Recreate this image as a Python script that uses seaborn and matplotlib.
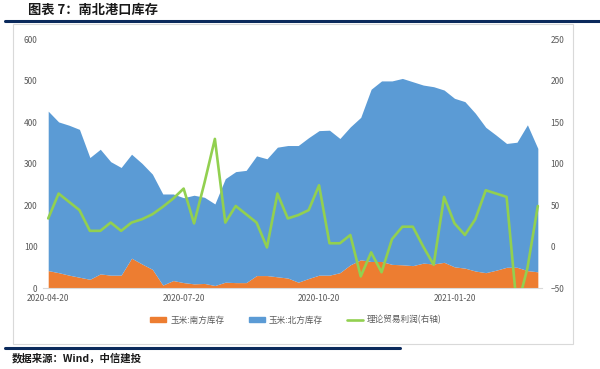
import numpy as np
import pandas as pd
import seaborn as sns
import matplotlib.pyplot as plt
from matplotlib.lines import Line2D
from matplotlib.patches import Patch, Rectangle

# weekly readings from 2020-04-20
south = [42, 37, 31, 26, 21, 34, 31, 31, 72, 58, 45, 7, 18, 13, 10, 11, 6, 14, 13, 13,
         30, 30, 27, 24, 14, 23, 31, 31, 37, 56, 68, 64, 64, 57, 56, 54, 60, 58, 62, 51,
         48, 41, 37, 43, 50, 50, 42, 39]
north = [385, 364, 362, 357, 294, 301, 274, 260, 251, 243, 230, 220, 209, 205, 214, 208,
         197, 250, 268, 271, 289, 282, 313, 320, 330, 340, 349, 350, 324, 333, 344, 416,
         436, 443, 450, 444, 430, 428, 416, 407, 402, 381, 351, 326, 299, 302, 352, 298]
profit = [34, 64, 54, 44, 19, 19, 29, 19, 29, 33, 39, 48, 58, 70, 28, 77, 130, 29, 49, 39,
          29, -1, 64, 34, 38, 44, 74, 4, 4, 14, -36, -7, -31, 9, 24, 24, 0, -22, 60, 28,
          14, 33, 68, 64, 60, -75, -26, 49]
date_labels = ["2020-04-20", "2020-07-20", "2020-10-20", "2021-01-20"]

df = pd.DataFrame({"idx": np.arange(len(south)), "south": south,
                   "north": north, "profit": profit})

sns.set_style("white")
plt.rcParams['font.family'] = ['Noto Sans CJK SC', 'DejaVu Sans']

c_south = "#ED7D31"
c_north = "#5B9BD5"
c_profit = "#92D050"
grey = "#595959"

fig = plt.figure(figsize=(6, 3.69), dpi=100)

# header / footer decoration
fig.text(28 / 600, 1 - 10 / 369, "图表 7：南北港口库存", fontsize=9.5, fontweight="bold",
         color="#1a1a1a", va="center", ha="left")
fig.add_artist(Line2D([5 / 600, 1.0], [1 - 21 / 369] * 2, color="#0b2a5c", lw=2.2))
fig.add_artist(Rectangle((13 / 600, 1 - 344 / 369), (573 - 13) / 600, (344 - 24) / 369,
                         fill=False, ec="#d9d9d9", lw=0.8))
fig.add_artist(Line2D([5 / 600, 400 / 600], [1 - 348 / 369] * 2, color="#0b2a5c", lw=2.2))
fig.text(12 / 600, 1 - 358 / 369, "数据来源：Wind，中信建投", fontsize=7.5, fontweight="bold",
         style="italic", color="#1a1a1a", va="center", ha="left")

ax = fig.add_axes([43 / 600, 1 - 288 / 369, (542 - 43) / 600, (288 - 39.5) / 369])
ax.stackplot(df["idx"], df["south"], df["north"], colors=[c_south, c_north], lw=0)
ax.set_xlim(-0.5, 47.4)
ax.set_ylim(0, 600)
ax.set_yticks(range(0, 601, 100))
ax.set_xticks(df["idx"][::13])
ax.set_xticklabels(date_labels)
ax.tick_params(axis="both", labelsize=6, colors=grey, length=0, pad=4)
for s in ["top", "left", "right"]:
    ax.spines[s].set_visible(False)
ax.spines["bottom"].set_color("#d9d9d9")

ax2 = ax.twinx()
sns.lineplot(data=df, x="idx", y="profit", ax=ax2, color=c_profit, lw=1.9, legend=False)
ax2.set_ylim(-50, 250)
ax2.set_yticks(range(-50, 251, 50))
ax2.set_xlim(-0.5, 47.4)
ax2.set_ylabel("")
ax2.set_xlabel("")
ax.set_xlabel("")
ax2.tick_params(axis="y", labelsize=6, colors=grey, length=0, pad=6)
for s in ax2.spines.values():
    s.set_visible(False)

handles = [Patch(color=c_south, label="玉米:南方库存"),
           Patch(color=c_north, label="玉米:北方库存"),
           Line2D([0], [0], color=c_profit, lw=1.9, label="理论贸易利润(右轴)")]
fig.legend(handles=handles, loc="center", bbox_to_anchor=(296 / 600, 1 - 320 / 369),
           ncol=3, frameon=False, fontsize=6.2, handlelength=1.9, handleheight=0.6,
           handletextpad=0.45, columnspacing=2.8, labelcolor=grey)

fig.savefig("out.png", dpi=100)
